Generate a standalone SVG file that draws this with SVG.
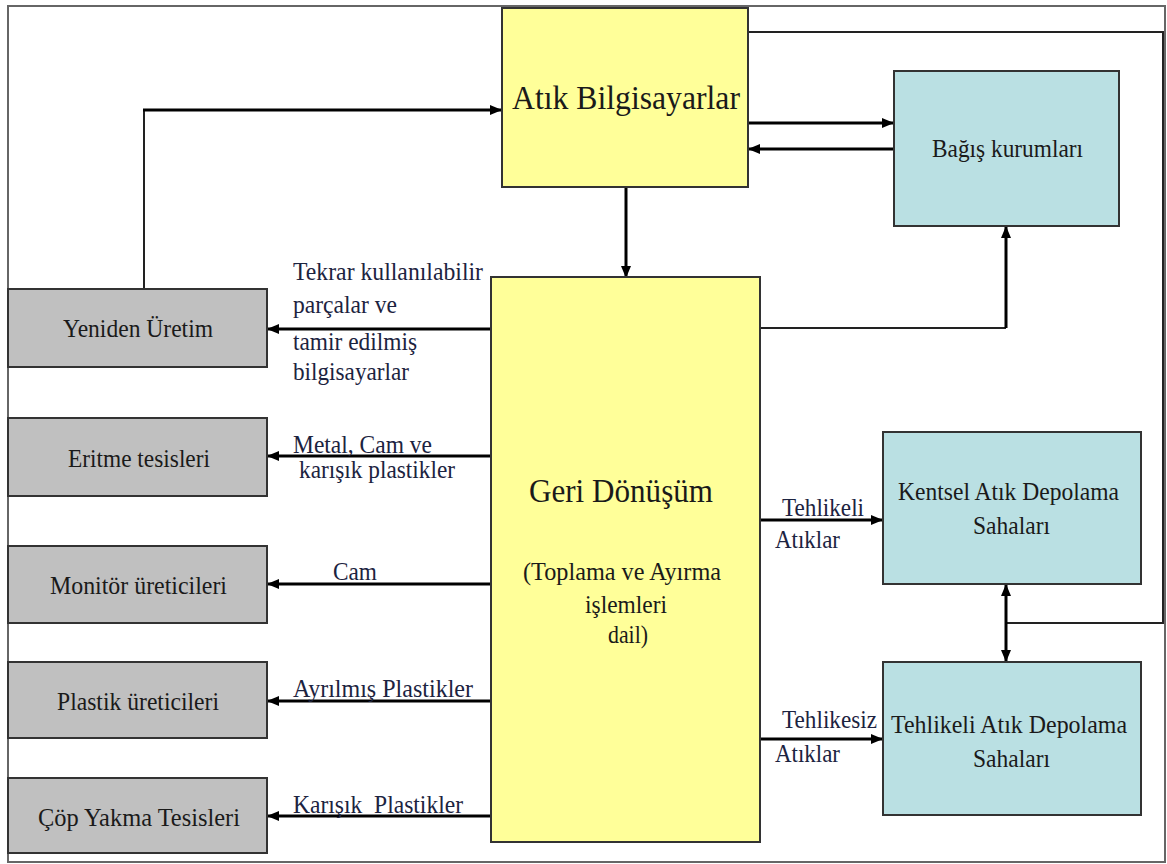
<svg xmlns="http://www.w3.org/2000/svg" width="1167" height="864" viewBox="0 0 1167 864">
<style>
  text { font-family: 'Liberation Serif', 'Times New Roman', serif; font-size: 24.5px; fill: #1a1a1a; }
  .lbl { fill: #1c2340; }
  .big { font-size: 33px; }
  .mid { text-anchor: middle; }
  .yel { fill: #FFFF99; stroke: #333; stroke-width: 2; }
  .blu { fill: #BAE0E3; stroke: #333; stroke-width: 2; }
  .gry { fill: #C0C0C0; stroke: #333; stroke-width: 2; }
  .c { fill: none; stroke: #000; stroke-width: 3; }
  .t { fill: none; stroke: #222; stroke-width: 2; }
</style>
<defs>
  <marker id="ah" viewBox="0 0 12 10" refX="11" refY="5" markerWidth="12" markerHeight="10" markerUnits="userSpaceOnUse" orient="auto-start-reverse">
    <path d="M0,0 L12,5 L0,10 z" fill="#000"/>
  </marker>
</defs>
<rect x="8" y="6" width="1157" height="856" fill="#fff" stroke="#666" stroke-width="2"/>

<g id="connectors">
  <path class="t" d="M144,289 V110"/>
  <path class="c" d="M143,110 H501" marker-end="url(#ah)"/>
  <path class="c" d="M748,123 H893" marker-end="url(#ah)"/>
  <path class="c" d="M894,149 H749" marker-end="url(#ah)"/>
  <path class="c" d="M626,187 V277" marker-end="url(#ah)"/>
  <path class="t" d="M760,328 H1006"/>
  <path class="c" d="M1006,328 V227" marker-end="url(#ah)"/>
  <path class="t" d="M748,32 H1163 V623 H1006"/>
  <path class="c" d="M1006,585 V661" marker-start="url(#ah)" marker-end="url(#ah)"/>
  <path class="c" d="M491,329 H268" marker-end="url(#ah)"/>
  <path class="c" d="M491,456 H268" marker-end="url(#ah)"/>
  <path class="c" d="M491,584 H268" marker-end="url(#ah)"/>
  <path class="c" d="M491,701 H268" marker-end="url(#ah)"/>
  <path class="c" d="M491,816 H268" marker-end="url(#ah)"/>
  <path class="c" d="M760,520 H882" marker-end="url(#ah)"/>
  <path class="c" d="M760,739 H882" marker-end="url(#ah)"/>
  <g id="connector-labels">
    <text class="lbl" x="293" y="280" textLength="190" lengthAdjust="spacingAndGlyphs">Tekrar kullanılabilir</text>
    <text class="lbl" x="293" y="313" textLength="104" lengthAdjust="spacingAndGlyphs">parçalar ve</text>
    <text class="lbl" x="293" y="350" textLength="124" lengthAdjust="spacingAndGlyphs">tamir edilmiş</text>
    <text class="lbl" x="293" y="380" textLength="116" lengthAdjust="spacingAndGlyphs">bilgisayarlar</text>
    <text class="lbl" x="293" y="453" textLength="139" lengthAdjust="spacingAndGlyphs">Metal, Cam ve</text>
    <text class="lbl" x="299" y="478" textLength="156" lengthAdjust="spacingAndGlyphs">karışık plastikler</text>
    <text class="lbl" x="333" y="580" textLength="44" lengthAdjust="spacingAndGlyphs">Cam</text>
    <text class="lbl" x="293" y="697" textLength="180" lengthAdjust="spacingAndGlyphs">Ayrılmış Plastikler</text>
    <text class="lbl" x="293" y="813" textLength="170" lengthAdjust="spacingAndGlyphs" xml:space="preserve">Karışık  Plastikler</text>
    <text class="lbl" x="782" y="516" textLength="82" lengthAdjust="spacingAndGlyphs">Tehlikeli</text>
    <text class="lbl" x="775" y="548" textLength="65" lengthAdjust="spacingAndGlyphs">Atıklar</text>
    <text class="lbl" x="782" y="728" textLength="95" lengthAdjust="spacingAndGlyphs">Tehlikesiz</text>
    <text class="lbl" x="775" y="762" textLength="65" lengthAdjust="spacingAndGlyphs">Atıklar</text>
  </g>
</g>

<g id="atik-bilgisayarlar">
  <rect class="yel" x="502" y="8" width="246" height="179"/>
  <text class="big mid" x="626" y="109" textLength="228" lengthAdjust="spacingAndGlyphs">Atık Bilgisayarlar</text>
</g>
<g id="bagis-kurumlari">
  <rect class="blu" x="894" y="71" width="225" height="155"/>
  <text class="mid" x="1007.5" y="157" textLength="151" lengthAdjust="spacingAndGlyphs">Bağış kurumları</text>
</g>
<g id="geri-donusum">
  <rect class="yel" x="491" y="277" width="269" height="565"/>
  <text class="big mid" x="621" y="502" textLength="184" lengthAdjust="spacingAndGlyphs">Geri Dönüşüm</text>
  <text class="mid" x="622" y="580" textLength="198" lengthAdjust="spacingAndGlyphs">(Toplama ve Ayırma</text>
  <text class="mid" x="626" y="613" textLength="82" lengthAdjust="spacingAndGlyphs">işlemleri</text>
  <text class="mid" x="628" y="643" textLength="40" lengthAdjust="spacingAndGlyphs">dail)</text>
</g>
<g id="kentsel">
  <rect class="blu" x="883" y="432" width="258" height="152"/>
  <text class="mid" x="1008.5" y="500" textLength="221" lengthAdjust="spacingAndGlyphs">Kentsel Atık Depolama</text>
  <text class="mid" x="1011.5" y="534" textLength="77" lengthAdjust="spacingAndGlyphs">Sahaları</text>
</g>
<g id="tehlikeli">
  <rect class="blu" x="883" y="662" width="258" height="153"/>
  <text class="mid" x="1009" y="733" textLength="236" lengthAdjust="spacingAndGlyphs">Tehlikeli Atık Depolama</text>
  <text class="mid" x="1011.5" y="767" textLength="77" lengthAdjust="spacingAndGlyphs">Sahaları</text>
</g>
<g id="yeniden-uretim">
  <rect class="gry" x="8" y="289" width="259" height="78"/>
  <text class="mid" x="138" y="337" textLength="150" lengthAdjust="spacingAndGlyphs">Yeniden Üretim</text>
</g>
<g id="eritme">
  <rect class="gry" x="8" y="418" width="259" height="78"/>
  <text class="mid" x="139" y="467" textLength="142" lengthAdjust="spacingAndGlyphs">Eritme tesisleri</text>
</g>
<g id="monitor">
  <rect class="gry" x="8" y="546" width="259" height="77"/>
  <text class="mid" x="138.5" y="594" textLength="177" lengthAdjust="spacingAndGlyphs">Monitör üreticileri</text>
</g>
<g id="plastik">
  <rect class="gry" x="8" y="662" width="259" height="76"/>
  <text class="mid" x="138" y="710" textLength="162" lengthAdjust="spacingAndGlyphs">Plastik üreticileri</text>
</g>
<g id="cop-yakma">
  <rect class="gry" x="8" y="778" width="259" height="75"/>
  <text class="mid" x="139" y="826" textLength="202" lengthAdjust="spacingAndGlyphs">Çöp Yakma Tesisleri</text>
</g>
</svg>
